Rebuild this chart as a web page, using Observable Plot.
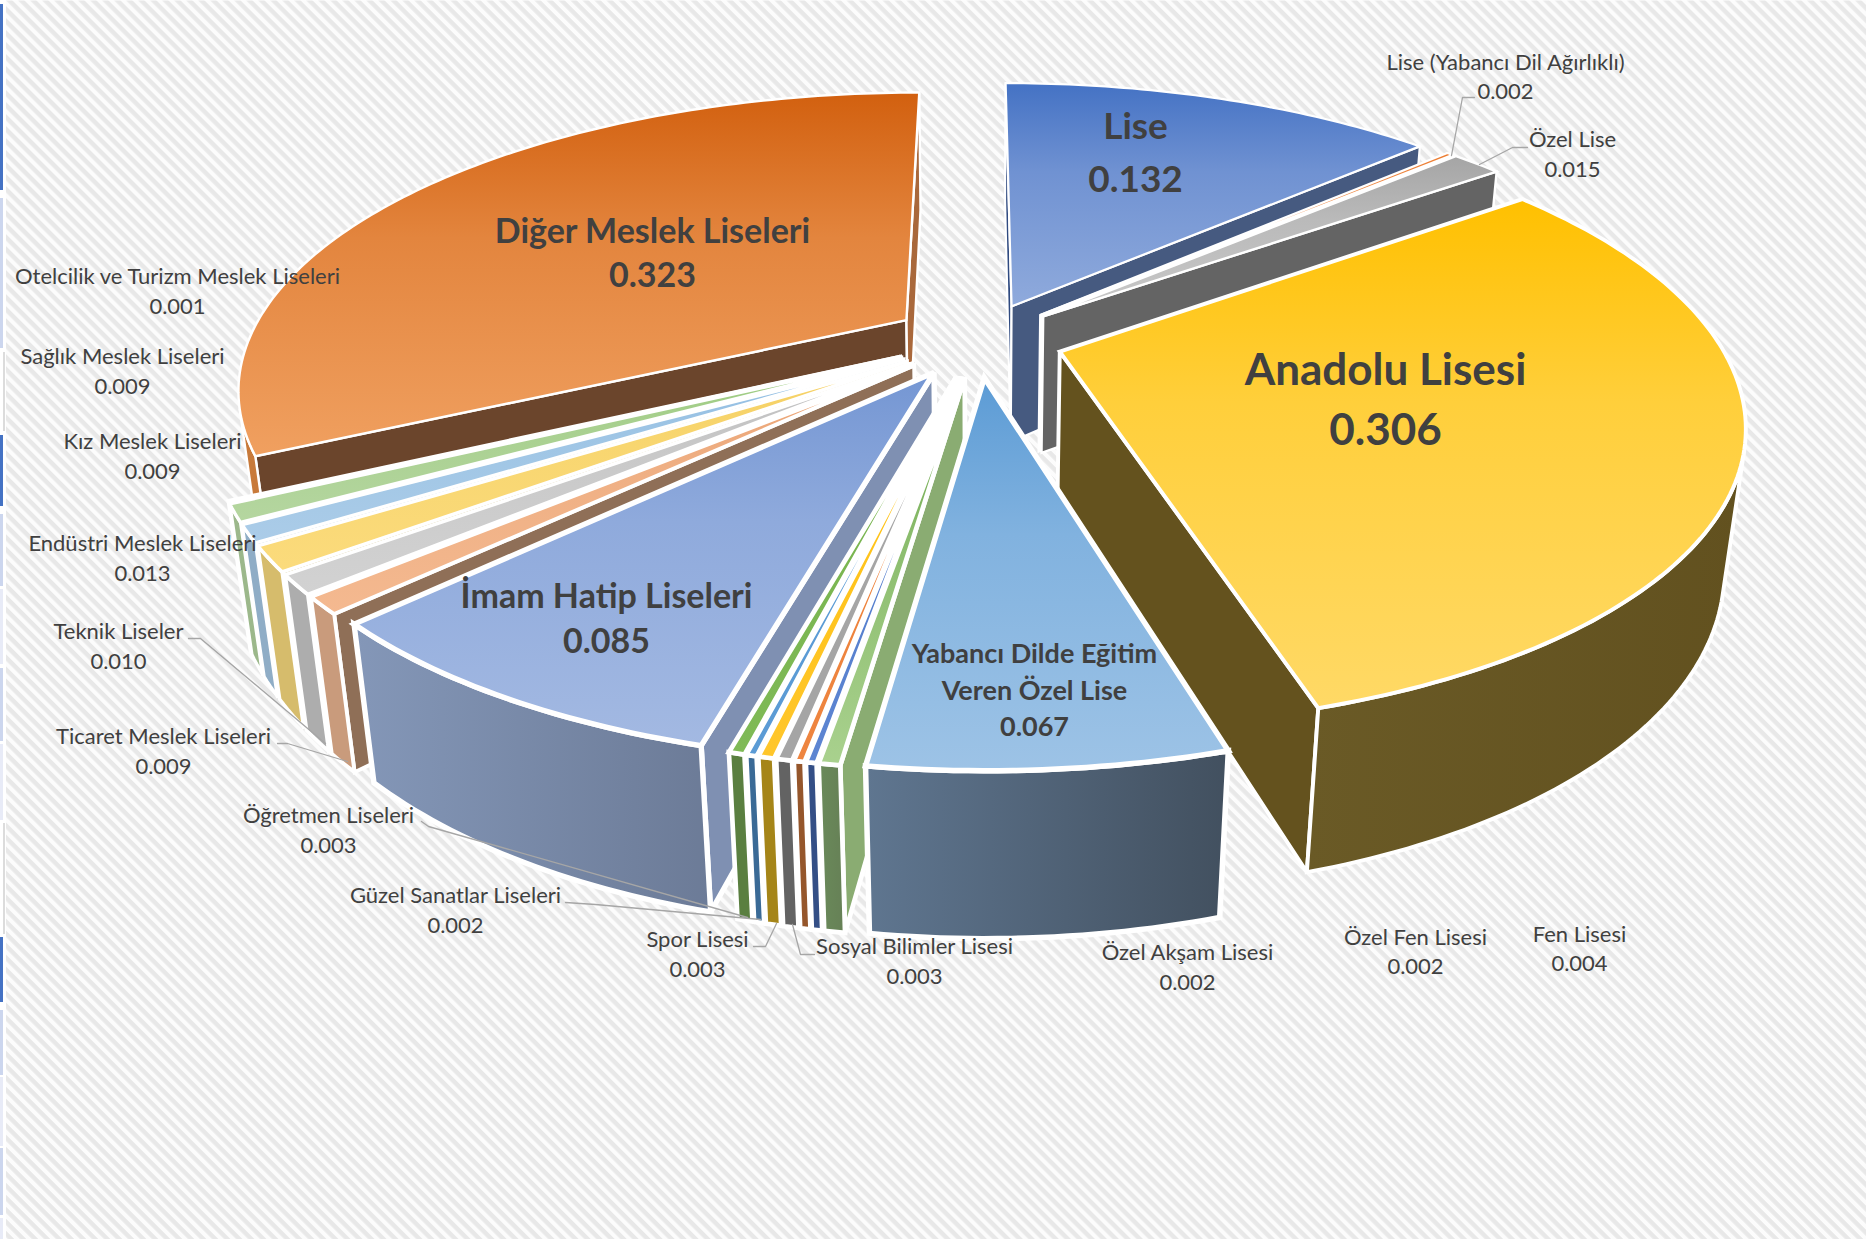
<!DOCTYPE html>
<html><head><meta charset="utf-8">
<script src="https://cdn.jsdelivr.net/npm/d3@7"></script>
<script src="https://cdn.jsdelivr.net/npm/@observablehq/plot@0.6"></script>
<style>html,body{margin:0;padding:0;background:#fff}svg{display:block}</style>
</head><body><div id="chart"></div>
<script>
// ---------- data (pie order, clockwise from the top)
const names = ["Lise","Lise (Yabancı Dil Ağırlıklı)","Özel Lise","Anadolu Lisesi","Yabancı Dilde Eğitim\nVeren Özel Lise","Fen Lisesi","Özel Fen Lisesi","Özel Akşam Lisesi","Sosyal Bilimler Lisesi","Spor Lisesi","Güzel Sanatlar Liseleri","Öğretmen Liseleri","İmam Hatip Liseleri","Ticaret Meslek Liseleri","Teknik Liseler","Endüstri Meslek Liseleri","Kız Meslek Liseleri","Sağlık Meslek Liseleri","Otelcilik ve Turizm Meslek Liseleri","Diğer Meslek Liseleri"];
const values = [0.132,0.002,0.015,0.306,0.067,0.004,0.002,0.002,0.003,0.003,0.002,0.003,0.085,0.009,0.010,0.013,0.009,0.009,0.001,0.323];

// ---------- styles: top gradient, outer wall gradient, start-edge wall, end-edge wall
const topFrom = ["#4472C4","#ED7D31","#A5A5A5","#FFC000","#5B9BD5","#5f9e3c","#4472C4","#ED7D31","#A5A5A5","#FFC000","#5B9BD5","#70AD47","#7496d3","#e9a070","#bdbdbd","#f5cf60","#8dbbe2","#96c878","#7f9fdc","#D2600F"];
const topTo   = ["#8FAADC","#F4B183","#C9C9C9","#FFD966","#9DC3E6","#A9D18E","#5d85d2","#EE8540","#A5A5A5","#FFC62B","#5B9BD5","#7FBA56","#A3B9E2","#F4B990","#D2D2D2","#FBDB7C","#ABCCE8","#B5D6A0","#9fb7e4","#F0A060"];
const outerFrom = ["#3a5080","#ffffff","#6a6a6a","#6a5a26","#5f7690","#6a8a5a","#344f86","#95562b","#636363","#a58518","#3a6a96","#5a7f40","#8497b8","#c99b7c","#adadad","#d6bc6c","#8fadc6","#9cb88b","#8fa0c0","#c87a3a"];
const outerTo   = ["#3a5080","#ffffff","#5c5c5c","#62511f","#42505f","#668056","#344f86","#95562b","#636363","#a58518","#3a6a96","#5a7f40","#6c7b97","#c99b7c","#adadad","#d6bc6c","#8fadc6","#9cb88b","#8fa0c0","#c87a3a"];
const startWall = ["#2f4a80","#ffffff","#6a6a6a","#64521e","#4f7aa8","#8aac72","#344f86","#95562b","#636363","#a58518","#3a6a96","#5a7f40","#7f90b2","#8f6f57","#9a9a9a","#b8a050","#7f9db6","#8ca87b","#6f84a8","#6b452c"];
const endWall   = ["#465a80","#ffffff","#646464","#64521e","#4f7aa8","#8aac72","#344f86","#95562b","#636363","#a58518","#3a6a96","#5a7f40","#7f90b2","#a9683b","#9a9a9a","#b8a050","#7f9db6","#8ca87b","#6f84a8","#a9683b"];

// ---------- projection of the pie
const view = {cx:977.5, cy:339, ax:658, ay:286, height:142, persp:0.222, perspZ:0.027, explode:0.13};
const project = (X, Y, Z) => {
  const s = 1 / (1 + view.persp * Y + view.perspZ * Z);
  return {x: view.cx + view.ax * X * s, y: view.cy - view.ay * Y * s + view.height * Z * s, s};
};
const strokeFor = d3.scaleLinear().domain([0.88,1.09,1.17]).range([2.2,3.3,4.7]).clamp(true);

// ---------- labels layout
const labelPlace = [[1135,127,180],[1505,62,91],[1572,139,169],[1385,370,430],[1034,654,691,727],[1579,934,963],[1415,937,966],[1187,952,982],[914,946,976],[697,939,969],[455,895,925],[328,815,845],[606,597,642],[163,736,766],[118,631,661],[142,543,573],[152,441,471],[122,356,386],[177,276,306],[652,232,276]];
const labelSize = [37,22,22,44,27,22,22,22,22,22,22,22,34,22,22,22,22,22,22,34];
const leaders = [
  [[1474,97],[1462,97],[1451,155]],
  [[1527,147],[1512,147],[1479,164]],
  [[814,954],[800,954],[792,924]],
  [[753,946],[765,946],[776,923]],
  [[565,902],[595,904],[760,919]],
  [[421,821],[428,826],[747,917]],
  [[188,638],[200,638],[325,743]],
  [[277,743],[287,743],[347,761]]
];
// page-edge strip of the original image
const edgeY = [4,198,352,435,514,589,668,744,823,937,1010,1077,1148,1218];
const edgeEnd = [190,348,431,506,586,664,741,820,934,1002,1075,1146,1215,1239];
const edgeFill = ["#4472C4","#ccd6ee","#dcdcdc","#4472C4","#ccd6ee","#e8ebf7","#ccd6ee","#e8ebf7","#dcdcdc","#4472C4","#ccd6ee","#e8ebf7","#ccd6ee","#e8ebf7"];

// ---------- geometry from the values
const TAU = 2 * Math.PI;
const total = d3.sum(values);
let acc = 0;
const slices = values.map((v, i) => {
  const a0 = acc / total * TAU; acc += v; const a1 = acc / total * TAU;
  const mid = (a0 + a1) / 2;
  return {i, a0, a1, mid, ox: view.explode * Math.sin(mid), oy: view.explode * Math.cos(mid)};
});
const arcPts = (sl, z) => {
  const n = Math.max(2, Math.ceil((sl.a1 - sl.a0) / (TAU / 360)));
  return d3.range(n + 1).map(k => {
    const a = sl.a0 + (sl.a1 - sl.a0) * k / n;
    return project(sl.ox + Math.sin(a), sl.oy + Math.cos(a), z);
  });
};
const apexPt = (sl, z) => project(sl.ox, sl.oy, z);
const area = pts => d3.sum(pts, (p, i) => { const q = pts[(i + 1) % pts.length]; return p.x * q.y - q.x * p.y; });

// gradients
const defs = [];
const grad = (c1, c2, horizontal, bend) => {
  const id = "g" + defs.length;
  defs.push({id, c1, c2, horizontal, bend});
  return `url(#${id})`;
};
const polys = [];
d3.sort(slices, s => -s.oy).forEach(sl => {
  const i = sl.i, topArc = arcPts(sl, 0), botArc = arcPts(sl, 1), last = topArc.length - 1;
  const A0 = apexPt(sl, 0), A1 = apexPt(sl, 1);
  const sm = project(sl.ox + 0.6 * Math.sin(sl.mid), sl.oy + 0.6 * Math.cos(sl.mid), 0).s;
  const sw = strokeFor(sm) + (values[i] > 0.05 && sm > 1 ? 0.8 : 0);
  const q0 = [A0, topArc[0], botArc[0], A1], q1 = [A0, topArc[last], botArc[last], A1];
  if (area(q0) < 0) polys.push({pts: q0, fill: startWall[i], sw});
  if (area(q1) > 0) polys.push({pts: q1, fill: endWall[i], sw});
  const vis = d3.range(last).filter(k => area([topArc[k], topArc[k+1], botArc[k+1], botArc[k]]) < 0);
  if (vis.length) {
    const a = d3.min(vis), b = d3.max(vis) + 1;
    polys.push({pts: [...topArc.slice(a, b + 1), ...botArc.slice(a, b + 1).reverse()], fill: grad(outerFrom[i], outerTo[i], true), sw});
  }
  polys.push({pts: [A0, ...topArc], fill: grad(topFrom[i], topTo[i], false, true), sw});
});

// label rows
const rows = [];
names.forEach((nm, i) => {
  const place = labelPlace[i], x = place[0], lines = [...nm.split("\n"), values[i].toFixed(3)];
  lines.forEach((t, k) => rows.push({t, x, y: place[k + 1], size: labelSize[i], big: labelSize[i] > 25}));
});

const defsMark = () => {
  const g = d3.create("svg:g");
  const d = g.append("defs");
  const p = d.append("pattern").attr("id","hatch").attr("patternUnits","userSpaceOnUse")
    .attr("width",8.49).attr("height",8.49).attr("patternTransform","rotate(45)");
  p.append("rect").attr("width",8.49).attr("height",8.49).attr("fill","#fcfcfc");
  p.append("rect").attr("width",8.49).attr("height",4.4).attr("fill","#e8e8e8");
  defs.forEach(o => {
    const lg = d.append("linearGradient").attr("id",o.id).attr("x1",0).attr("y1",0)
      .attr("x2",o.horizontal?1:0).attr("y2",o.horizontal?0:1);
    lg.append("stop").attr("offset",0).attr("stop-color",o.c1);
    if (o.bend) lg.append("stop").attr("offset",0.4).attr("stop-color",d3.interpolateRgb(o.c1,o.c2)(0.58));
    lg.append("stop").attr("offset",1).attr("stop-color",o.c2);
  });
  return g.node();
};

const textMark = (data, weight) => Plot.text(data, {x:"x", y:"y", text:"t", fontSize:"size", fill:"#404040",
  fontWeight: weight, lineAnchor:"middle", textAnchor:"middle",
  fontFamily:"Lato, 'Open Sans', sans-serif"});

const chart = Plot.plot({
  width:1866, height:1239, margin:0,
  x:{domain:[0,1866], range:[0,1866], axis:null},
  y:{domain:[0,1239], range:[0,1239], axis:null},
  color:{type:"identity"},
  style:{background:"#fff"},
  marks:[
    defsMark,
    Plot.frame({fill:"url(#hatch)", stroke:"none"}),
    Plot.rect([0],{x1:()=>0,x2:()=>6,y1:()=>0,y2:()=>1239,fill:"white"}),
    Plot.rect(edgeY,{x1:(d,i)=> edgeFill[i]==="#dcdcdc"?3:0, x2:(d,i)=> edgeFill[i]==="#dcdcdc"?5:3, y1:d=>d, y2:(d,i)=>edgeEnd[i], fill:(d,i)=>edgeFill[i]}),
    ...polys.map(p => Plot.line(p.pts, {x:"x", y:"y", curve:"linear-closed", fill:p.fill, stroke:"white", strokeWidth:p.sw, strokeLinejoin:"miter", strokeMiterlimit:3})),
    ...leaders.map(l => Plot.line(l, {x:d=>d[0], y:d=>d[1], stroke:"#a6a6a6", strokeWidth:1.3})),
    textMark(rows.filter(r => !r.big), 400),
    textMark(rows.filter(r => r.big), 700)
  ]
});
document.getElementById("chart").append(chart);
</script></body></html>
